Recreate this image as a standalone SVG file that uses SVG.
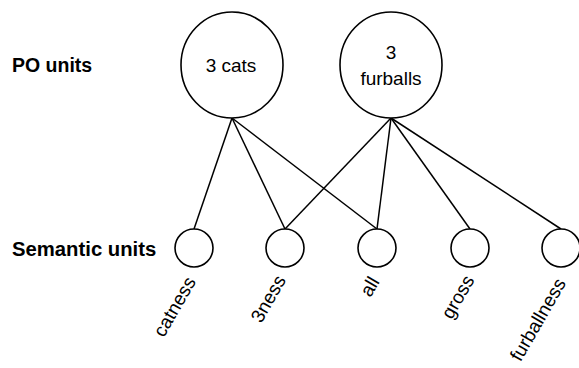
<svg xmlns="http://www.w3.org/2000/svg" width="579" height="368" viewBox="0 0 579 368">
<style>
.n{fill:#fff;stroke:#000;stroke-width:1.6}
.c{stroke:#000;stroke-width:1.5;fill:none}
.h{font-family:"Liberation Sans",Arial,sans-serif;font-weight:bold;font-size:19.5px;fill:#000}
.t{font-family:"Liberation Sans",Arial,sans-serif;font-size:19px;fill:#000;text-anchor:middle}
.l{font-family:"Liberation Sans",Arial,sans-serif;font-size:19px;fill:#000;text-anchor:end}
</style>
<rect width="579" height="368" fill="#fff"/>
<text class="h" x="12" y="72">PO units</text>
<text class="h" x="12" y="256" style="font-size:20.3px">Semantic units</text>
<g id="connectors">
<line class="c" x1="232" y1="118" x2="194" y2="229"/>
<line class="c" x1="232" y1="118" x2="285" y2="229"/>
<line class="c" x1="232" y1="118" x2="377" y2="229"/>
<line class="c" x1="391" y1="118" x2="285" y2="229"/>
<line class="c" x1="391" y1="118" x2="377" y2="229"/>
<line class="c" x1="391" y1="118" x2="470" y2="229"/>
<line class="c" x1="391" y1="118" x2="561" y2="229"/>
</g>
<g id="po-cats"><ellipse class="n" cx="232" cy="65" rx="51" ry="53"/><text class="t" x="231" y="72">3 cats</text></g>
<g id="po-furballs"><ellipse class="n" cx="391" cy="65" rx="51" ry="53"/><text class="t" x="391" y="59">3</text><text class="t" x="391" y="85">furballs</text></g>
<g id="s-catness"><circle class="n" cx="194" cy="248" r="19"/><text class="l" transform="translate(196.5,281.5) rotate(-60)">catness</text></g>
<g id="s-3ness"><circle class="n" cx="285" cy="248" r="19"/><text class="l" transform="translate(286.5,280) rotate(-60)">3ness</text></g>
<g id="s-all"><circle class="n" cx="377" cy="248" r="19"/><text class="l" transform="translate(380,281.5) rotate(-60)">all</text></g>
<g id="s-gross"><circle class="n" cx="470" cy="248" r="19"/><text class="l" transform="translate(475,280) rotate(-60)">gross</text></g>
<g id="s-furballness"><circle class="n" cx="561" cy="248" r="19"/><text class="l" transform="translate(566.5,283) rotate(-60)">furballness</text></g>
</svg>
